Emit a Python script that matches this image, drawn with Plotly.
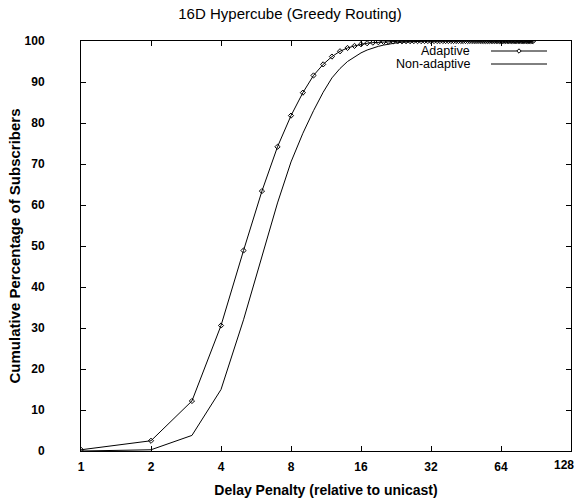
import plotly.graph_objects as go

delay = list(range(1, 89))

adaptive = [0.3, 2.5, 12.2, 30.6, 48.9, 63.4, 74.2, 81.8, 87.4, 91.6,
            94.3, 96.2, 97.5, 98.3, 98.8, 99.2, 99.45, 99.6, 99.7, 99.78,
            99.84, 99.88, 99.91, 99.93, 99.95, 99.96, 99.97, 99.98, 99.98, 99.99,
            100, 100, 100, 100, 100, 100, 100, 100, 100, 100,
            100, 100, 100, 100, 100, 100, 100, 100, 100, 100,
            100, 100, 100, 100, 100, 100, 100, 100, 100, 100,
            100, 100, 100, 100, 100, 100, 100, 100, 100, 100,
            100, 100, 100, 100, 100, 100, 100, 100, 100, 100,
            100, 100, 100, 100, 100, 100, 100, 100]

non_adaptive = [0.0, 0.3, 3.8, 15.0, 32.0, 47.5, 60.5, 70.5, 77.5, 83.0,
                87.5, 91.0, 93.3, 95.0, 96.2, 97.1, 97.8, 98.3, 98.7, 99.0,
                99.25, 99.45, 99.6, 99.7, 99.78, 99.84, 99.88, 99.92, 99.95, 99.97,
                100, 100, 100, 100, 100, 100, 100, 100, 100, 100,
                100, 100, 100, 100, 100, 100, 100, 100, 100, 100,
                100, 100, 100, 100, 100, 100, 100, 100, 100, 100,
                100, 100, 100, 100, 100, 100, 100, 100, 100, 100,
                100, 100, 100, 100, 100, 100, 100, 100, 100, 100,
                100, 100, 100, 100, 100, 100, 100, 100]

x_ticks = [1, 2, 4, 8, 16, 32, 64]
x_tick_labels = ["1", "2", "4", "8", "16", "32", "64"]
x_edge_tick = [128]
x_edge_label = ["128"]
y_ticks = [0, 10, 20, 30, 40, 50, 60, 70, 80, 90, 100]

FONT = "Liberation Sans, Arial, sans-serif"
XRANGE = [0, 2.10721]

fig = go.Figure()
fig.add_trace(go.Scatter(
    x=delay, y=adaptive, mode="lines+markers", name="Adaptive",
    line=dict(color="black", width=1),
    marker=dict(symbol="diamond-open", size=4, color="black", line=dict(width=1, color="black")),
))
fig.add_trace(go.Scatter(
    x=delay, y=non_adaptive, mode="lines", name="Non-adaptive",
    xaxis="x2", yaxis="y",
    line=dict(color="black", width=1),
))

W, H = 580, 501
ml, mr, mt, mb = 81, 9, 41, 50
PW, PH = W - ml - mr, H - mt - mb

def px(xw):
    # window pixel -> paper (plot-area) fraction
    return (xw - ml) / PW

def py(yw):
    return (H - mb - yw) / PH

# gnuplot-style legend (text left, sample right)
legend_rows = [("Adaptive", 51, True), ("Non-adaptive", 64, False)]
shapes = []
annotations = []
for label, yy, has_marker in legend_rows:
    annotations.append(dict(
        x=px(472), y=py(yy), xref="paper", yref="paper", text=label,
        showarrow=False, xanchor="right", yanchor="middle",
        font=dict(family=FONT, size=12.5, color="black"),
    ))
    shapes.append(dict(type="line", xref="paper", yref="paper",
                       x0=px(491), x1=px(547), y0=py(yy), y1=py(yy),
                       line=dict(color="black", width=1)))
    if has_marker:
        cx, cy, r = 519, yy, 2.2
        shapes.append(dict(type="path", xref="paper", yref="paper",
                           path=f"M {px(cx - r)} {py(cy)} L {px(cx)} {py(cy - r)} L {px(cx + r)} {py(cy)} L {px(cx)} {py(cy + r)} Z",
                           line=dict(color="black", width=1), fillcolor="white"))

tickfont = dict(family=FONT, size=12, color="black", weight="bold")

fig.update_layout(
    width=W, height=H,
    margin=dict(l=ml, r=mr, t=mt, b=mb, autoexpand=False),
    paper_bgcolor="white", plot_bgcolor="white",
    showlegend=False,
    title=dict(text="16D Hypercube (Greedy Routing)",
               x=290 / W, xanchor="center",
               y=1 - 14 / H, yanchor="middle",
               font=dict(family=FONT, size=15, color="black")),
    font=dict(family=FONT, color="black"),
    shapes=shapes,
    annotations=annotations,
    xaxis=dict(
        type="log", range=XRANGE, tickvals=x_ticks, ticktext=x_tick_labels,
        ticks="inside", ticklen=5, tickcolor="black", tickwidth=1,
        showline=True, linecolor="black", linewidth=1, mirror="ticks",
        showgrid=False, zeroline=False, automargin=False,
        tickfont=tickfont, ticklabelstandoff=5,
        title=dict(text="Delay Penalty (relative to unicast)", standoff=11,
                   font=dict(family=FONT, size=14, color="black", weight="bold")),
    ),
    # companion axis (same scale) that carries the right-edge "128" label, nudged inward
    xaxis2=dict(
        type="log", range=XRANGE, overlaying="x", side="bottom", anchor="y",
        tickvals=x_edge_tick, ticktext=x_edge_label,
        ticks="inside", ticklen=5, tickcolor="black", tickwidth=1,
        showline=False, showgrid=False, zeroline=False, automargin=False,
        tickfont=tickfont, ticklabelstandoff=5, ticklabelshift=-7,
    ),
    yaxis=dict(
        range=[0, 100], tickvals=y_ticks,
        ticks="inside", ticklen=5, tickcolor="black", tickwidth=1,
        showline=True, linecolor="black", linewidth=1, mirror="ticks",
        showgrid=False, zeroline=False, automargin=False,
        tickfont=tickfont, ticklabelstandoff=33,
        title=dict(text="Cumulative Percentage of Subscribers", standoff=0,
                   font=dict(family=FONT, size=15, color="black", weight="bold")),
    ),
)

fig.write_html("out.html",
               config={"displayModeBar": False},
               post_script="document.body.style.margin='0';document.body.style.padding='0';")
